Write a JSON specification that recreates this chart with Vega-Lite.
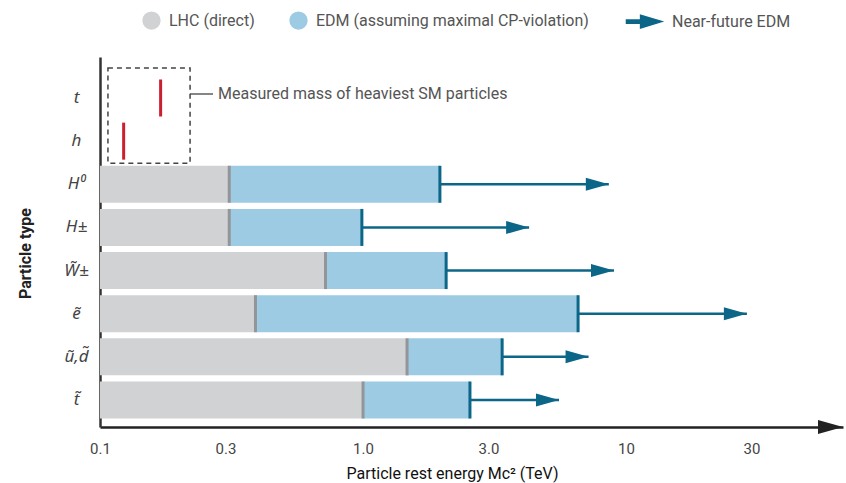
{
  "$schema": "https://vega.github.io/schema/vega-lite/v6.json",
  "autosize": "none",
  "padding": {"left": 100, "top": 57, "right": 3, "bottom": 56},
  "width": 743,
  "height": 370,
  "background": "white",
  "config": {
    "view": {"stroke": null},
    "font": "Roboto",
    "axis": {"grid": false, "ticks": false, "tickSize": 0}
  },
  "datasets": {
    "bars": [
      {"p": "H\u2070", "lhc": 0.31, "edm": 1.96, "future": 8.6},
      {"p": "H\u00b1", "lhc": 0.31, "edm": 0.99, "future": 4.28},
      {"p": "W\u0303\u00b1", "lhc": 0.72, "edm": 2.07, "future": 9.0},
      {"p": "\u1ebd", "lhc": 0.39, "edm": 6.57, "future": 28.8},
      {"p": "\u0169,d\u0303", "lhc": 1.47, "edm": 3.38, "future": 7.2},
      {"p": "t\u0303", "lhc": 1.0, "edm": 2.55, "future": 5.56}
    ],
    "sm": [
      {"p": "t", "mass": 0.17},
      {"p": "h", "mass": 0.123}
    ]
  },
  "resolve": {"scale": {"y": "independent"}},
  "layer": [
    {
      "encoding": {
        "y": {
          "field": "p",
          "type": "nominal",
          "sort": null,
          "scale": {
            "domain": ["t", "h", "H\u2070", "H\u00b1", "W\u0303\u00b1", "\u1ebd", "\u0169,d\u0303", "t\u0303"],
            "paddingInner": 0.142,
            "paddingOuter": 0.359,
            "align": 0.726
          },
          "axis": {
            "title": "Particle type",
            "domain": true,
            "domainColor": "#333333",
            "domainWidth": 2.5,
            "labelFont": "Noto Sans",
            "labelFontStyle": "italic",
            "labelFontSize": 17,
            "labelColor": "#444444",
            "labelAlign": "center",
            "labelPadding": 24,
            "titleFont": "Roboto",
            "titleFontSize": 16,
            "titleFontWeight": "bold",
            "titleColor": "#222222",
            "titleX": -75,
            "titleY": 196,
            "titleBaseline": "middle"
          }
        }
      },
      "layer": [
        {
          "data": {"name": "bars"},
          "mark": {"type": "bar"},
          "encoding": {
            "x": {
              "field": "lhc",
              "type": "quantitative",
              "scale": {"type": "log", "domain": [0.1, 66.8], "nice": false},
              "axis": {
                "title": "Particle rest energy Mc\u00b2 (TeV)",
                "values": [0.1, 0.3, 1, 3, 10, 30],
                "labelExpr": "datum.value < 10 ? format(datum.value, '.1f') : format(datum.value, 'd')",
                "domain": true,
                "domainColor": "#222222",
                "domainWidth": 2.5,
                "labelFontSize": 15,
                "labelColor": "#444444",
                "labelPadding": 14,
                "labelFlush": false,
                "titleFontSize": 16,
                "titleFontWeight": "normal",
                "titleColor": "#111111",
                "titleX": 352,
                "titleY": 51,
                "titleBaseline": "alphabetic"
              }
            },
            "x2": {"datum": 0.1},
            "color": {
              "datum": "LHC (direct)",
              "scale": {
                "domain": ["LHC (direct)", "EDM (assuming maximal CP-violation)", "Near-future EDM"],
                "range": ["#d1d2d4", "#9ccbe3", "#0b6688"]
              },
              "legend": {
                "title": null,
                "orient": "none",
                "legendX": 42,
                "legendY": -46,
                "direction": "horizontal",
                "columns": 3,
                "symbolSize": 283,
                "labelFont": "Roboto",
                "labelFontSize": 16,
                "labelColor": "#555555",
                "labelOffset": 8,
                "labelLimit": 400,
                "columnPadding": 32,
                "padding": 0,
                "encode": {
                  "symbols": {
                    "update": {
                      "shape": {"signal": "datum.value === 'Near-future EDM' ? 'M-0.48,-0.2 L1.2,-0.2 L1.2,-0.75 L3.7,0 L1.2,0.75 L1.2,0.2 L-0.48,0.2 Z' : 'circle'"},
                      "fill": {"signal": "datum.value === 'LHC (direct)' ? '#bcbec0' : datum.value === 'Near-future EDM' ? '#0b6688' : '#9dd0ea'"},
                      "stroke": {"value": "transparent"},
                      "opacity": {"value": 1}
                    }
                  },
                  "labels": {
                    "update": {
                      "dx": {"signal": "datum.value === 'Near-future EDM' ? 24 : 0"}
                    }
                  }
                }
              }
            }
          }
        },
        {
          "data": {"name": "bars"},
          "mark": {"type": "bar"},
          "encoding": {
            "x": {"field": "lhc", "type": "quantitative"},
            "x2": {"field": "edm"},
            "color": {"datum": "EDM (assuming maximal CP-violation)"}
          }
        },
        {
          "data": {"name": "bars"},
          "mark": {"type": "tick", "size": 37, "thickness": 3, "color": "#939598", "opacity": 1},
          "encoding": {
            "x": {"field": "lhc", "type": "quantitative"}
          }
        },
        {
          "data": {"name": "bars"},
          "mark": {"type": "rule", "strokeWidth": 2.5},
          "encoding": {
            "x": {"field": "edm", "type": "quantitative"},
            "x2": {"field": "future"},
            "color": {"datum": "Near-future EDM"}
          }
        },
        {
          "data": {"name": "bars"},
          "mark": {"type": "tick", "size": 37, "thickness": 3, "color": "#0b6688", "opacity": 1},
          "encoding": {
            "x": {"field": "edm", "type": "quantitative"}
          }
        },
        {
          "data": {"name": "bars"},
          "mark": {"type": "point", "shape": "M0,0 L-2,-0.565 L-2,0.565 Z", "size": 529, "filled": true, "color": "#0b6688", "opacity": 1, "strokeWidth": 0},
          "encoding": {
            "x": {"field": "future", "type": "quantitative"}
          }
        },
        {
          "data": {"name": "sm"},
          "mark": {"type": "tick", "size": 37, "thickness": 3, "color": "#cc1f2f", "opacity": 1},
          "encoding": {
            "x": {"field": "mass", "type": "quantitative"}
          }
        },
        {
          "data": {"values": [{"label": "Measured mass of heaviest SM particles"}]},
          "mark": {"type": "rect", "fill": "transparent", "stroke": "#444444", "strokeWidth": 1.5, "strokeDash": [5, 4], "yOffset": -11.5, "y2Offset": 3.5},
          "encoding": {
            "x": {"datum": 0.1072, "type": "quantitative"},
            "x2": {"datum": 0.22},
            "y": {"datum": "t", "bandPosition": 0},
            "y2": {"datum": "h", "bandPosition": 1}
          }
        },
        {
          "data": {"values": [{"label": "Measured mass of heaviest SM particles"}]},
          "mark": {"type": "rule", "stroke": "#444444", "strokeWidth": 1.3, "yOffset": -4},
          "encoding": {
            "x": {"datum": 0.22, "type": "quantitative"},
            "x2": {"datum": 0.269},
            "y": {"datum": "t"}
          }
        },
        {
          "data": {"values": [{"label": "Measured mass of heaviest SM particles"}]},
          "mark": {"type": "text", "align": "left", "baseline": "middle", "fontSize": 16, "font": "Roboto", "color": "#555555", "yOffset": -4},
          "encoding": {
            "x": {"datum": 0.281, "type": "quantitative"},
            "y": {"datum": "t"},
            "text": {"field": "label"}
          }
        }
      ]
    },
    {
      "data": {"values": [{"end": 66.8}]},
      "mark": {"type": "point", "shape": "M0,0 L-2,-0.56 L-2,0.56 Z", "size": 625, "filled": true, "color": "#222222", "opacity": 1, "strokeWidth": 0},
      "encoding": {
        "x": {"field": "end", "type": "quantitative"},
        "y": {"datum": 0, "type": "quantitative", "scale": {"domain": [0, 1]}, "axis": null}
      }
    }
  ]
}
